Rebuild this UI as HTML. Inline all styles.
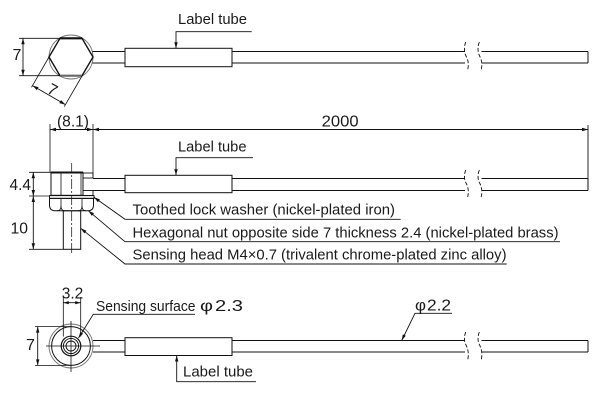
<!DOCTYPE html>
<html>
<head>
<meta charset="utf-8">
<style>
html,body{margin:0;padding:0;background:#fff;}
svg{display:block;}
text{font-family:"Liberation Sans",Arial,sans-serif;fill:#1a1a1a;}
</style>
</head>
<body>
<svg width="600" height="400" viewBox="0 0 600 400" xmlns="http://www.w3.org/2000/svg">
<g fill="none" stroke="#111" stroke-width="1">

<!-- ============ TOP VIEW ============ -->
<circle cx="71" cy="57" r="22" stroke="#777" stroke-width="0.9"/>
<polygon points="49,57 60,38.3 82,38.3 93,57 82,75.7 60,75.7" stroke-width="1.4"/>
<line x1="60" y1="38.3" x2="82" y2="38.3" stroke-width="2.2"/>
<line x1="60" y1="75.7" x2="82" y2="75.7" stroke="#666" stroke-width="2.2"/>
<!-- cable -->
<line x1="92.5" y1="51.5" x2="125" y2="51.5"/>
<line x1="92.5" y1="63" x2="125" y2="63"/>
<rect x="125" y="48.3" width="107" height="18.4"/>
<line x1="232" y1="51.5" x2="465" y2="51.5"/>
<line x1="232" y1="63" x2="465" y2="63"/>
<line x1="481.5" y1="51.5" x2="588" y2="51.5"/>
<line x1="481.5" y1="63" x2="588" y2="63"/>
<line x1="588" y1="51.5" x2="588" y2="63"/>
<path d="M465.7,42 Q463,50 466,56 Q469.5,62 467.7,70" stroke-dasharray="4,2" stroke-width="0.9"/>
<path d="M479.3,42 Q476.6,50 479.6,56 Q483,62 481.2,70" stroke-dasharray="4,2" stroke-width="0.9"/>
<!-- vertical 7 dim -->
<line x1="19" y1="38.3" x2="60" y2="38.3" stroke-width="0.8"/>
<line x1="19" y1="75.7" x2="60" y2="75.7" stroke-width="0.8"/>
<line x1="23" y1="38.3" x2="23" y2="75.7" stroke-width="0.9"/>
<!-- diagonal 7 dim -->
<line x1="49" y1="57" x2="31.5" y2="87.3" stroke-width="0.8"/>
<line x1="82" y1="76" x2="64.3" y2="106.6" stroke-width="0.8"/>
<line x1="32.5" y1="85.6" x2="65.4" y2="104.6" stroke-width="0.9"/>
<!-- label tube leader top -->
<polyline points="176,48.3 176,31.7 251.7,31.7" stroke-width="0.9"/>

<!-- ============ MIDDLE VIEW ============ -->
<!-- dimension lines -->
<line x1="50" y1="124" x2="50" y2="172" stroke-width="0.8"/>
<line x1="93" y1="124" x2="93" y2="176" stroke-width="0.8"/>
<line x1="588" y1="125" x2="588" y2="178.5" stroke-width="0.9"/>
<line x1="50" y1="129.5" x2="588" y2="129.5" stroke-width="0.9"/>
<!-- center line -->
<line x1="71.7" y1="163" x2="71.7" y2="253" stroke-width="0.7" stroke-dasharray="10,2,2,2"/>
<!-- upper body -->
<rect x="51" y="172.5" width="32" height="22.8" stroke-width="1"/>
<line x1="51" y1="172.5" x2="83" y2="172.5" stroke-width="2"/>
<line x1="61" y1="172.5" x2="61" y2="195.3" stroke-width="0.8"/>
<line x1="81" y1="172.5" x2="81" y2="195.3" stroke-width="0.8"/>
<!-- bracket -->
<rect x="83" y="173" width="10" height="5" stroke-width="0.9"/>
<rect x="83" y="190.5" width="10" height="5" stroke-width="0.9"/>
<!-- washer -->
<rect x="49.5" y="195.6" width="44.5" height="2.8" stroke-width="1"/>
<!-- lower hex nut -->
<path d="M49.5,198.4 H93.5 V205 Q93.5,210.8 87.5,210.8 H55.5 Q49.5,210.8 49.5,205 Z" stroke-width="1"/>
<path d="M61,198.4 V206 Q61,210.8 57,210.8" stroke-width="0.8"/>
<path d="M61,206 Q61,210.8 65,210.8" stroke-width="0.8"/>
<path d="M82,198.4 V206 Q82,210.8 78,210.8" stroke-width="0.8"/>
<path d="M82,206 Q82,210.8 86,210.8" stroke-width="0.8"/>
<!-- shaft -->
<rect x="63.3" y="210.8" width="17.4" height="38.5" stroke-width="1"/>
<!-- cable -->
<line x1="93" y1="178.5" x2="125" y2="178.5"/>
<line x1="93" y1="190.5" x2="125" y2="190.5"/>
<rect x="125" y="175.3" width="107" height="17.4"/>
<line x1="232" y1="178.5" x2="465" y2="178.5"/>
<line x1="232" y1="190.5" x2="465" y2="190.5"/>
<line x1="481.5" y1="178.5" x2="588" y2="178.5"/>
<line x1="481.5" y1="190.5" x2="588" y2="190.5"/>
<line x1="588" y1="178.5" x2="588" y2="190.5"/>
<path d="M465.7,170 Q463,177.5 466,183 Q469.5,189 467.7,197" stroke-dasharray="4,2" stroke-width="0.9"/>
<path d="M479.3,170 Q476.6,177.5 479.6,183 Q483,189 481.2,197" stroke-dasharray="4,2" stroke-width="0.9"/>
<!-- 4.4 / 10 dim -->
<line x1="29" y1="172.3" x2="51" y2="172.3" stroke-width="0.8"/>
<line x1="29" y1="196" x2="50" y2="196" stroke-width="0.8"/>
<line x1="29" y1="249.3" x2="63.3" y2="249.3" stroke-width="0.8"/>
<line x1="33.3" y1="172.3" x2="33.3" y2="249.3" stroke-width="0.9"/>
<!-- label tube leader middle -->
<polyline points="176,175.3 176,157.7 253,157.7" stroke-width="0.9"/>
<!-- callout leaders -->
<polyline points="94,197.3 125,219.3 400.7,219.3" stroke-width="0.9"/>
<polyline points="88.3,210.7 125,241.7 560,241.7" stroke-width="0.9"/>
<polyline points="80.7,228.3 125,264 506.7,264" stroke-width="0.9"/>

<!-- ============ BOTTOM VIEW ============ -->
<circle cx="71" cy="346" r="22" stroke="#777" stroke-width="0.9"/>
<circle cx="71" cy="346" r="19.4" stroke-width="1"/>
<circle cx="71" cy="346" r="9.8" stroke-width="1.2"/>
<circle cx="71" cy="346" r="7.6" stroke-width="0.9"/>
<circle cx="71" cy="346" r="5" stroke-width="0.9"/>
<line x1="46" y1="346" x2="100" y2="346" stroke-width="0.8"/>
<line x1="71" y1="321" x2="71" y2="372" stroke-width="0.8"/>
<!-- 3.2 dim -->
<line x1="63.3" y1="297" x2="63.3" y2="336.5" stroke-width="0.8"/>
<line x1="80.7" y1="297" x2="80.7" y2="336.5" stroke-width="0.8"/>
<line x1="63.3" y1="302.7" x2="80.7" y2="302.7" stroke-width="0.8"/>
<!-- 7 dim -->
<line x1="35" y1="326.6" x2="71" y2="326.6" stroke-width="0.8"/>
<line x1="35" y1="365.4" x2="71" y2="365.4" stroke-width="0.8"/>
<line x1="37.7" y1="326.6" x2="37.7" y2="365.4" stroke-width="0.9"/>
<!-- cable -->
<line x1="93" y1="340.5" x2="125" y2="340.5"/>
<line x1="93" y1="352" x2="125" y2="352"/>
<rect x="125" y="337.7" width="107" height="17.8"/>
<line x1="232" y1="340.5" x2="465" y2="340.5"/>
<line x1="232" y1="352" x2="465" y2="352"/>
<line x1="481.5" y1="340.5" x2="588" y2="340.5"/>
<line x1="481.5" y1="352" x2="588" y2="352"/>
<line x1="588" y1="340.5" x2="588" y2="352"/>
<path d="M465.7,332 Q463,339.5 466,345 Q469.5,352 467.7,360" stroke-dasharray="4,2" stroke-width="0.9"/>
<path d="M479.3,332 Q476.6,339.5 479.6,345 Q483,352 481.2,360" stroke-dasharray="4,2" stroke-width="0.9"/>
<!-- leaders -->
<polyline points="78.5,338 93.3,314.3 195,314.3" stroke-width="0.9"/>
<polyline points="401.7,340.5 415,313.3 452,313.3" stroke-width="0.9"/>
<polyline points="176.7,355.5 176.7,381.7 256,381.7" stroke-width="0.9"/>
</g>

<!-- arrowheads -->
<g fill="#111" stroke="none">
<polygon points="176,48.3 174.3,42.3 177.7,42.3"/>
<polygon points="176,175.3 174.3,169.3 177.7,169.3"/>
<polygon points="176.7,355.5 175,361.5 178.4,361.5"/>
<polygon points="23,38.3 21.3,44.3 24.7,44.3"/>
<polygon points="23,75.7 21.3,69.7 24.7,69.7"/>
<polygon points="65.4,104.6 59.35,103.07 61.05,100.13"/>
<polygon points="32.5,85.6 36.85,90.07 38.55,87.13"/>
<polygon points="50,129.5 56,127.8 56,131.2"/>
<polygon points="93,129.5 87,127.8 87,131.2"/>
<polygon points="93,129.5 99,127.8 99,131.2"/>
<polygon points="588,129.5 582,127.8 582,131.2"/>
<polygon points="33.3,172.3 31.6,178.3 35,178.3"/>
<polygon points="33.3,196 31.6,190 35,190"/>
<polygon points="33.3,196 31.6,202 35,202"/>
<polygon points="33.3,249.3 31.6,243.3 35,243.3"/>
<polygon points="94,197.3 99.9,199.4 97.9,202.2"/>
<polygon points="88.3,210.7 94,213.3 91.8,215.9"/>
<polygon points="80.7,228.3 86.5,230.8 84.3,233.4"/>
<polygon points="63.3,302.7 68.8,301.1 68.8,304.3"/>
<polygon points="80.7,302.7 75.2,301.1 75.2,304.3"/>
<polygon points="37.7,326.6 36,332.6 39.4,332.6"/>
<polygon points="37.7,365.4 36,359.4 39.4,359.4"/>
<polygon points="78.5,338 80.3,332 83.1,333.8"/>
<polygon points="401.7,340.5 402.8,334.4 405.8,335.8"/>
</g>

<!-- text -->
<text x="178" y="24" font-size="15" textLength="69" lengthAdjust="spacingAndGlyphs">Label tube</text>
<text x="12.5" y="60" font-size="16">7</text>
<text transform="translate(50,94.5) rotate(28)" font-size="16" text-anchor="middle">7</text>
<text x="57" y="126.7" font-size="16" textLength="32" lengthAdjust="spacingAndGlyphs">(8.1)</text>
<text x="321.7" y="126.7" font-size="16" textLength="37" lengthAdjust="spacingAndGlyphs">2000</text>
<text x="178" y="151.7" font-size="15" textLength="68.5" lengthAdjust="spacingAndGlyphs">Label tube</text>
<text x="9.5" y="190" font-size="16" textLength="21.5" lengthAdjust="spacingAndGlyphs">4.4</text>
<text x="10.5" y="233.5" font-size="16" textLength="17.5" lengthAdjust="spacingAndGlyphs">10</text>
<text x="132.5" y="214.5" font-size="15" textLength="262.5" lengthAdjust="spacingAndGlyphs">Toothed lock washer (nickel-plated iron)</text>
<text x="132.5" y="237.5" font-size="15" textLength="426" lengthAdjust="spacingAndGlyphs">Hexagonal nut opposite side 7 thickness 2.4 (nickel-plated brass)</text>
<text x="132.5" y="259.5" font-size="15" textLength="374" lengthAdjust="spacingAndGlyphs">Sensing head M4×0.7 (trivalent chrome-plated zinc alloy)</text>
<text x="61.7" y="298.3" font-size="16" textLength="21.6" lengthAdjust="spacingAndGlyphs">3.2</text>
<text x="96" y="311" font-size="15" textLength="99.5" lengthAdjust="spacingAndGlyphs">Sensing surface</text>
<text x="200" y="311" font-size="16" textLength="13" lengthAdjust="spacingAndGlyphs">φ</text>
<text x="215" y="311" font-size="16" textLength="28" lengthAdjust="spacingAndGlyphs">2.3</text>
<text x="415" y="310.7" font-size="16" textLength="11" lengthAdjust="spacingAndGlyphs">φ</text>
<text x="427" y="310.7" font-size="16" textLength="24" lengthAdjust="spacingAndGlyphs">2.2</text>
<text x="26" y="350" font-size="16">7</text>
<text x="183" y="376.7" font-size="15" textLength="70" lengthAdjust="spacingAndGlyphs">Label tube</text>
</svg>
</body>
</html>
